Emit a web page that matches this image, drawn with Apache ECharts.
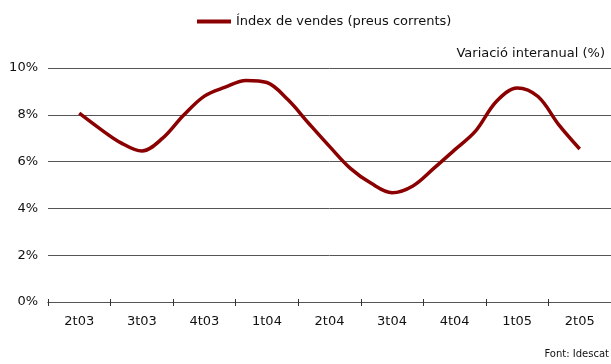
<!DOCTYPE html>
<html>
<head>
<meta charset="utf-8">
<script src="https://cdn.jsdelivr.net/npm/echarts@6/dist/echarts.min.js"></script>
<style>
  html, body { margin: 0; padding: 0; background: #fff; }
  #chart { width: 611px; height: 364px; }
</style>
</head>
<body>
<div id="chart"></div>
<script>
// Quarter labels shown on the horizontal axis
const quarters = ['2t03', '3t03', '4t03', '1t04', '2t04', '3t04', '4t04', '1t05', '2t05'];
// Monthly year-on-year change (%), from the middle month of 2t03 to the middle month of 2t05
const salesIndex = [8.07, 7.4, 6.8, 6.45, 7.0, 7.98, 8.8, 9.18, 9.47, 9.38, 8.65, 7.64,
                    6.65, 5.71, 5.07, 4.67, 4.96, 5.71, 6.5, 7.3, 8.57, 9.15, 8.78, 7.57, 6.54];
const yTicks = [0, 2, 4, 6, 8, 10];

const FONT = 'DejaVu Sans';
const MONTHS_PER_Q = 3;

// one slot per month, three per quarter
const slots = [];
quarters.forEach(q => { for (let m = 0; m < MONTHS_PER_Q; m++) slots.push(q); });
// the series begins at the middle month of the first quarter
const lineData = slots.map(() => '-');
salesIndex.forEach((v, i) => { lineData[i + 1] = v; });

const chart = echarts.init(document.getElementById('chart'), null, { renderer: 'canvas' });

const baseX = {
  type: 'category',
  data: slots,
  boundaryGap: true,
  axisLine: { show: true, lineStyle: { color: '#555', width: 1 } },
  splitLine: { show: false }
};

chart.setOption({
  animation: false,
  backgroundColor: '#fff',
  textStyle: { fontFamily: FONT },
  legend: {
    top: 10,
    left: 192,
    itemWidth: 34,
    itemHeight: 4,
    itemGap: 4,
    icon: 'rect',
    textStyle: { fontFamily: FONT, fontSize: 13, color: '#111' },
    data: ['Índex de vendes (preus corrents)']
  },
  graphic: [
    { type: 'text', right: 6, top: 47,
      style: { text: 'Variació interanual (%)', font: '13px "' + FONT + '"', fill: '#111' } },
    { type: 'text', right: 2, top: 349,
      style: { text: 'Font: Idescat', font: '10px "' + FONT + '"', fill: '#111' } }
  ],
  grid: { left: 48, width: 566, top: 68, bottom: 62, containLabel: false },
  xAxis: [
    Object.assign({}, baseX, {
      axisTick: { show: true, length: 4, inside: false, lineStyle: { color: '#333' },
                  interval: (i) => i % MONTHS_PER_Q === 0 },
      axisLabel: { show: true, margin: 13, fontSize: 13, color: '#111', fontFamily: FONT,
                   interval: (i) => i % MONTHS_PER_Q === 1 }
    }),
    Object.assign({}, baseX, {
      position: 'bottom',
      axisTick: { show: true, length: 3, inside: true, lineStyle: { color: '#333' },
                  interval: (i) => i % MONTHS_PER_Q === 0 },
      axisLabel: { show: false }
    })
  ],
  yAxis: {
    type: 'value',
    min: yTicks[0],
    max: yTicks[yTicks.length - 1],
    interval: 2,
    axisLine: { show: false },
    axisTick: { show: false },
    axisLabel: { formatter: '{value}%', fontSize: 13, color: '#111', fontFamily: FONT, margin: 10 },
    splitLine: { show: true, lineStyle: { color: '#555', width: 1 } }
  },
  series: [{
    name: 'Índex de vendes (preus corrents)',
    type: 'line',
    data: lineData,
    smooth: 0.35,
    showSymbol: false,
    symbol: 'none',
    connectNulls: false,
    color: '#8b0000',
    lineStyle: { color: '#8b0000', width: 3.5 }
  }]
});
</script>
</body>
</html>
